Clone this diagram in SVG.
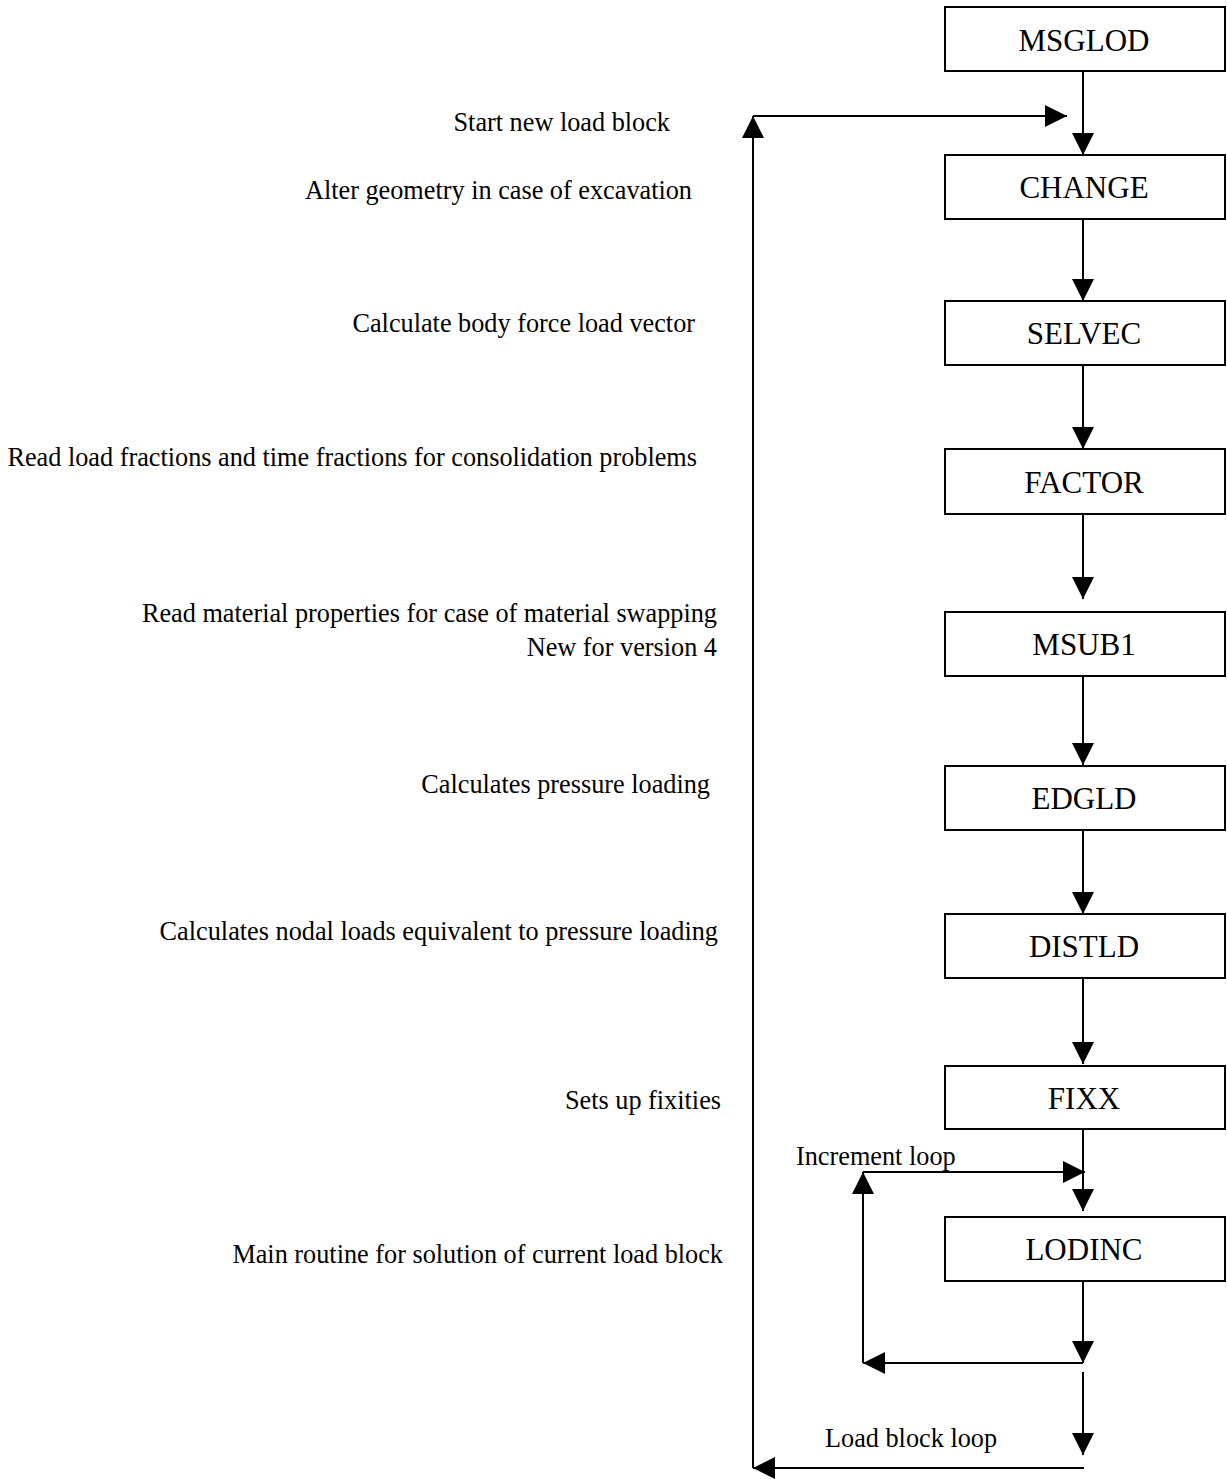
<svg xmlns="http://www.w3.org/2000/svg" width="1227" height="1479" viewBox="0 0 1227 1479">
<style>
.box{fill:#fff;stroke:#000;stroke-width:2}
.bl{font-family:"Liberation Serif","Times New Roman",serif;font-size:31px;text-anchor:middle;fill:#000}
.lb{font-family:"Liberation Serif","Times New Roman",serif;font-size:26.25px;text-anchor:end;fill:#000}
.ll{font-family:"Liberation Serif","Times New Roman",serif;font-size:26.25px;fill:#000}
.ln{stroke:#000;stroke-width:2;fill:none}
.ah{fill:#000}
</style>
<defs>
<marker id="arr" viewBox="0 0 22 22" refX="22" refY="11" markerWidth="22" markerHeight="22" markerUnits="userSpaceOnUse" orient="auto">
<path d="M0,0 L22,11 L0,22 Z" class="ah"/>
</marker>
</defs>
<rect width="1227" height="1479" fill="#fff"/>
<g id="connectors">
<line class="ln" x1="1083" y1="71" x2="1083" y2="155" marker-end="url(#arr)"/>
<line class="ln" x1="753" y1="116" x2="1067" y2="116" marker-end="url(#arr)"/>
<line class="ln" x1="1083" y1="219" x2="1083" y2="301" marker-end="url(#arr)"/>
<line class="ln" x1="1083" y1="365" x2="1083" y2="449" marker-end="url(#arr)"/>
<line class="ln" x1="1083" y1="514" x2="1083" y2="599" marker-end="url(#arr)"/>
<line class="ln" x1="1083" y1="676" x2="1083" y2="765" marker-end="url(#arr)"/>
<line class="ln" x1="1083" y1="830" x2="1083" y2="914" marker-end="url(#arr)"/>
<line class="ln" x1="1083" y1="978" x2="1083" y2="1064" marker-end="url(#arr)"/>
<line class="ln" x1="1083" y1="1129" x2="1083" y2="1211" marker-end="url(#arr)"/>
<line class="ln" x1="863" y1="1172" x2="1085" y2="1172" marker-end="url(#arr)"/>
<line class="ln" x1="863" y1="1363" x2="863" y2="1172" marker-end="url(#arr)"/>
<line class="ln" x1="1083" y1="1281" x2="1083" y2="1363" marker-end="url(#arr)"/>
<line class="ln" x1="1083" y1="1363" x2="863" y2="1363" marker-end="url(#arr)"/>
<line class="ln" x1="1083" y1="1372" x2="1083" y2="1455" marker-end="url(#arr)"/>
<line class="ln" x1="1084" y1="1468" x2="753" y2="1468" marker-end="url(#arr)"/>
<line class="ln" x1="753" y1="1468" x2="753" y2="116" marker-end="url(#arr)"/>
</g>
<g id="n-msglod"><rect class="box" x="945" y="7" width="280" height="64"/><text class="bl" x="1084" y="51">MSGLOD</text></g>
<g id="n-change"><rect class="box" x="945" y="155" width="280" height="64"/><text class="bl" x="1084" y="198">CHANGE</text></g>
<g id="n-selvec"><rect class="box" x="945" y="301" width="280" height="64"/><text class="bl" x="1084" y="344">SELVEC</text></g>
<g id="n-factor"><rect class="box" x="945" y="449" width="280" height="65"/><text class="bl" x="1084" y="493">FACTOR</text></g>
<g id="n-msub1"><rect class="box" x="945" y="612" width="280" height="64"/><text class="bl" x="1084" y="655">MSUB1</text></g>
<g id="n-edgld"><rect class="box" x="945" y="766" width="280" height="64"/><text class="bl" x="1084" y="809">EDGLD</text></g>
<g id="n-distld"><rect class="box" x="945" y="914" width="280" height="64"/><text class="bl" x="1084" y="957">DISTLD</text></g>
<g id="n-fixx"><rect class="box" x="945" y="1066" width="280" height="63"/><text class="bl" x="1084" y="1109">FIXX</text></g>
<g id="n-lodinc"><rect class="box" x="945" y="1217" width="280" height="64"/><text class="bl" x="1084" y="1260">LODINC</text></g>
<g id="labels">
<text class="lb" x="670" y="131">Start new load block</text>
<text class="lb" x="692" y="199">Alter geometry in case of excavation</text>
<text class="lb" x="695" y="332">Calculate body force load vector</text>
<text class="lb" x="697" y="466">Read load fractions and time fractions for consolidation problems</text>
<text class="lb" x="717" y="622">Read material properties for case of material swapping</text>
<text class="lb" x="717" y="656">New for version 4</text>
<text class="lb" x="710" y="793">Calculates pressure loading</text>
<text class="lb" x="718" y="940">Calculates nodal loads equivalent to pressure loading</text>
<text class="lb" x="721" y="1109">Sets up fixities</text>
<text class="lb" x="723" y="1263">Main routine for solution of current load block</text>
<text class="ll" x="796" y="1165">Increment loop</text>
<text class="ll" x="825" y="1447">Load block loop</text>
</g>
</svg>
